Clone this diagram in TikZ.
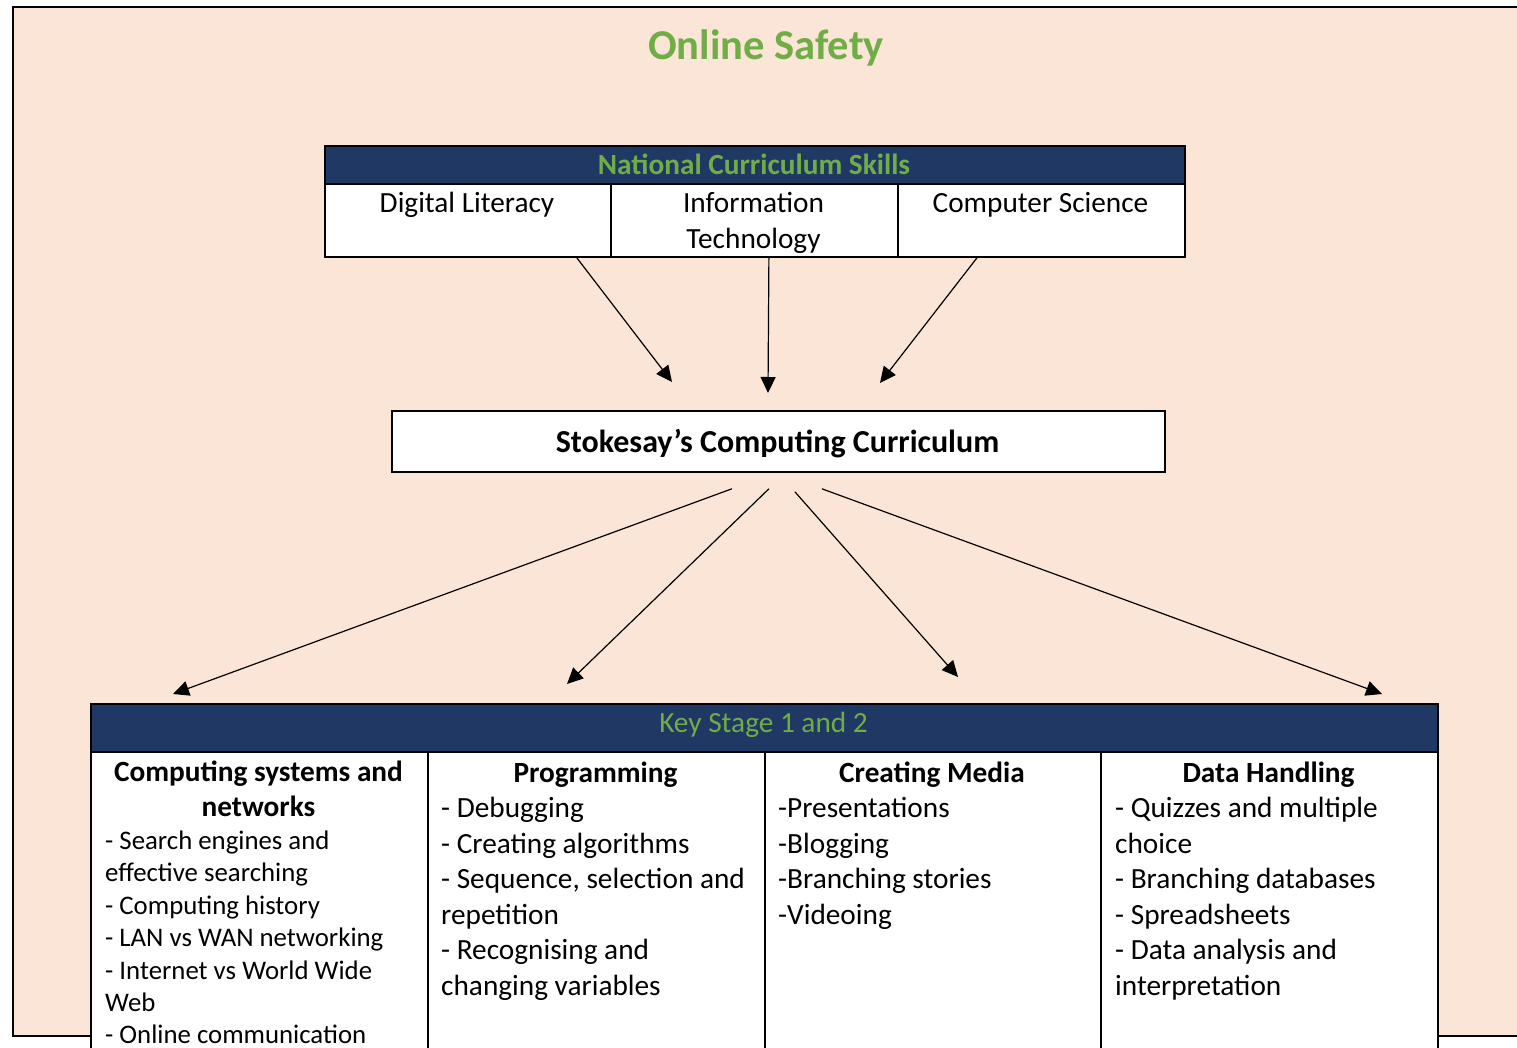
\documentclass[tikz,border=0pt]{standalone}
\usepackage{fontspec}
\setmainfont{Carlito}
\usetikzlibrary{arrows.meta}
\definecolor{peach}{HTML}{FBE5D6}
\definecolor{navy}{HTML}{1F3864}
\definecolor{leaf}{HTML}{70AD47}
\newcommand\mylines[2]{\parbox[t]{#1}{\raggedright #2}}
\newcommand\mycentre[2]{\parbox[t]{#1}{\centering #2}}
\begin{document}
\begin{tikzpicture}[x=1pt,y=-1pt,
  box/.style={draw=black,line width=1.8pt,inner sep=0pt,anchor=north west},
  txt/.style={inner sep=0pt,anchor=base},
  ltxt/.style={inner sep=0pt,anchor=base west},
  body/.style={font=\fontsize{29.3}{35.5}\selectfont},
  small/.style={font=\fontsize{26.8}{32.4}\selectfont},
  head/.style={font=\bfseries\fontsize{29.3}{35}\selectfont},
  arr/.style={-{Triangle[length=16pt,width=15pt]},line width=1.2pt}]
\useasboundingbox (0,0) rectangle (1517,1048);
\clip (0,0) rectangle (1517,1048);
\fill[white] (0,0) rectangle (1517,1048);
% background panel
\draw[line width=2pt,fill=peach] (13,7) rectangle (1540,1036);
\node[txt,text=leaf,font=\bfseries\fontsize{42.5}{50}\selectfont] (title) at (766,59.3) {Online Safety};
% top table
\node[box,fill=navy,minimum width=860pt,minimum height=38pt] (ncs) at (324,145) {};
\node[box,fill=white,minimum width=286pt,minimum height=73pt] (dl) at (324,183) {};
\node[box,fill=white,minimum width=287pt,minimum height=73pt] (it) at (610,183) {};
\node[box,fill=white,minimum width=287pt,minimum height=73pt] (cs) at (897,183) {};
\node[txt,text=leaf,font=\bfseries\fontsize{29.3}{35}\selectfont] (ncst) at (754,175) {National Curriculum Skills};
\node[txt,body] (dlt) at (467,213) {Digital Literacy};
\node[txt,body] (itt) at (753.5,213) {\mycentre{280pt}{Information\\Technology}};
\node[txt,body] (cst) at (1040.5,213) {Computer Science};
% middle box
\node[box,fill=white,minimum width=773pt,minimum height=61pt] (ssc) at (391,410) {};
\node[txt,font=\bfseries\fontsize{32}{38}\selectfont] (ssct) at (777.5,452.5) {Stokesay’s Computing Curriculum};
% arrows into middle box
\coordinate (t1) at (672,382);
\coordinate (t2) at (768,393);
\coordinate (t3) at (880,383);
\draw[arr] ([xshift=-35pt]dl.south east) -- (t1);
\draw[arr] ([xshift=14.5pt]it.south) -- (t2);
\draw[arr] ([xshift=80pt]cs.south west) -- (t3);
% bottom table
\node[box,fill=navy,minimum width=1347pt,minimum height=48pt] (ks) at (90,703) {};
\node[box,fill=white,minimum width=337pt,minimum height=340pt] (c1) at (90,751) {};
\node[box,fill=white,minimum width=337pt,minimum height=340pt] (c2) at (427,751) {};
\node[box,fill=white,minimum width=336pt,minimum height=340pt] (c3) at (764,751) {};
\node[box,fill=white,minimum width=337pt,minimum height=340pt] (c4) at (1100,751) {};
\node[txt,text=leaf,font=\fontsize{29.3}{35}\selectfont] (kst) at (763.5,732.5) {Key Stage 1 and 2};
% arrows out of middle box
\coordinate (b1) at (173,694);
\coordinate (b2) at (567,684);
\coordinate (b3) at (958,677);
\coordinate (b4) at (1382,694);
\draw[arr] ([xshift=-46.5pt,yshift=-16pt]ssc.south) -- (b1);
\draw[arr] ([xshift=-9.5pt,yshift=-16pt]ssc.south) -- (b2);
\draw[arr] ([xshift=16.5pt,yshift=-19pt]ssc.south) -- (b3);
\draw[arr] ([xshift=43.5pt,yshift=-16pt]ssc.south) -- (b4);
% column texts
\node[txt,head] (h1) at (258.5,781.7) {\mycentre{330pt}{Computing systems and\\networks}};
\node[ltxt,small] (i1) at (105,849.5) {\mylines{325pt}{- Search engines and\\effective searching\\- Computing history\\- LAN vs WAN networking\\- Internet vs World Wide\\Web\\- Online communication}};
\node[txt,head] (h2) at (595.5,782.5) {Programming};
\node[ltxt,body] (i2) at (441,817.5) {\mylines{325pt}{- Debugging\\- Creating algorithms\\- Sequence, selection and\\repetition\\- Recognising and\\changing variables}};
\node[txt,head] (h3) at (932,782.5) {Creating Media};
\node[ltxt,body] (i3) at (778,817.5) {\mylines{325pt}{-Presentations\\-Blogging\\-Branching stories\\-Videoing}};
\node[txt,head] (h4) at (1268.5,782.5) {Data Handling};
\node[ltxt,body] (i4) at (1115,817.5) {\mylines{325pt}{- Quizzes and multiple\\choice\\- Branching databases\\- Spreadsheets\\- Data analysis and\\interpretation}};
\end{tikzpicture}
\end{document}
